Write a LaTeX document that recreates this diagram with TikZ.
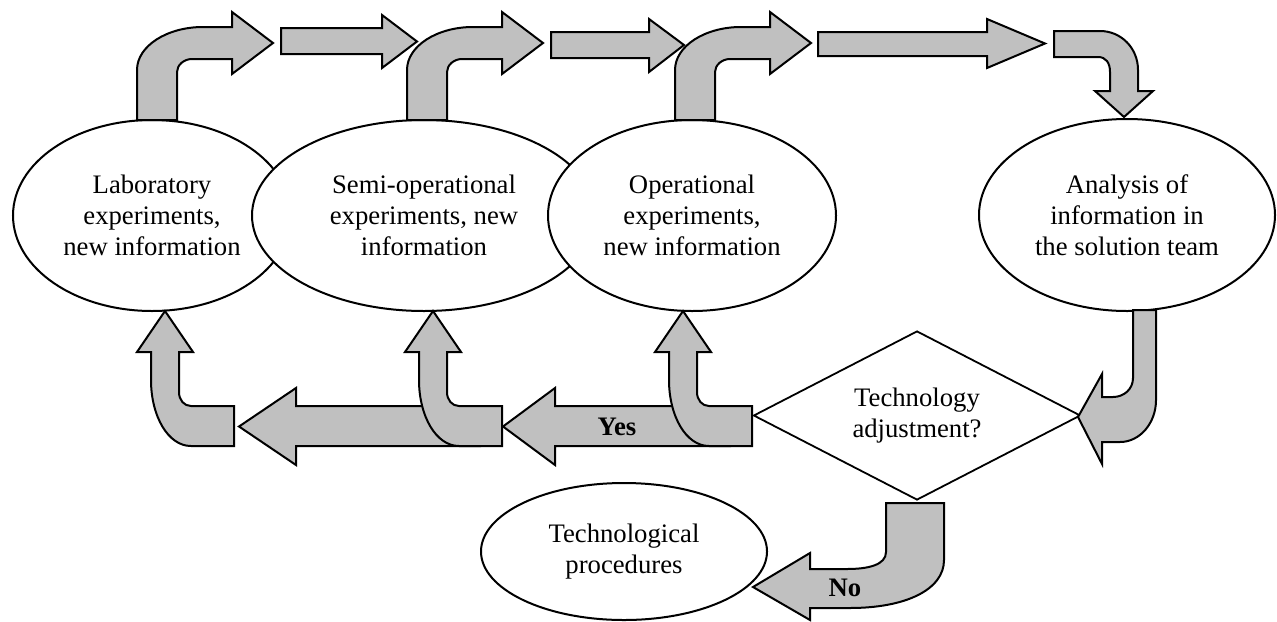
\documentclass[tikz,border=0pt]{standalone}
\usepackage{fontspec}
\setmainfont{Liberation Serif}
\usetikzlibrary{shapes.geometric}

\tikzset{
    stage/.style={ellipse, draw, fill=white, line width=1pt, inner sep=0pt,
        align=center, font=\fontsize{13.35}{15.5}\selectfont},
    decision/.style={diamond, draw, fill=white, line width=0.9pt, inner sep=0pt,
        aspect=1.9, align=center, font=\fontsize{13.35}{15.5}\selectfont},
    blockarrow/.style={draw, fill=fill_gray, line width=1pt, line join=miter},
    answer/.style={inner sep=0pt, font=\fontsize{13.35}{15.5}\selectfont\bfseries}
}

\begin{document}
\begin{tikzpicture}[x=0.5pt, y=-0.5pt]
    \definecolor{fill_gray}{HTML}{C0C0C0}
    \useasboundingbox (0,0) rectangle (1277,621);
    %\draw[help lines, step=50] (0,0) grid (1277,621);

    \node[stage, minimum width=139pt, minimum height=95.5pt] (lab) at (152,215.5) {
        Laboratory\\experiments,\\new information
    };
    \node[stage, minimum width=172pt, minimum height=95.5pt] (semi) at (424,215.5) {
        Semi-operational\\experiments, new\\information
    };
    \node[stage, minimum width=144pt, minimum height=95.5pt] (oper) at (692,215.5) {
        Operational\\experiments,\\new information
    };
    \node[stage, minimum width=148pt, minimum height=96pt] (analysis) at (1127,215) {
        Analysis of\\information in\\the solution team
    };
    \node[stage, minimum width=143pt, minimum height=68.5pt] (proc) at (624,551.5) {
        Technological\\procedures
    };
    \node[decision, minimum width=163.5pt, minimum height=84.5pt] (adjust) at (917,415.5) {
        Technology\\adjustment?
    };

    % upper row
    \path[blockarrow] (137,120) -- (137,70) .. controls (137,46) and (167,27) .. (203,27) -- (232,27) -- (232,12) -- (273,43) -- (232,74) -- (232,59) -- (192,59) .. controls (184,59) and (177,65) .. (177,72) -- (177,120) -- cycle;
    \path[blockarrow] (281,28) -- (382,28) -- (382,15) -- (417,41.5) -- (382,68) -- (382,54) -- (281,54) -- cycle;
    \path[blockarrow] (407,120) -- (407,70) .. controls (407,46) and (437,27) .. (473,27) -- (502,27) -- (502,12) -- (543,43) -- (502,74) -- (502,59) -- (462,59) .. controls (454,59) and (447,65) .. (447,72) -- (447,120) -- cycle;
    \path[blockarrow] (551,32) -- (649,32) -- (649,19) -- (684,45) -- (649,72) -- (649,58) -- (551,58) -- cycle;
    \path[blockarrow] (675,120) -- (675,70) .. controls (675,46) and (705,27) .. (741,27) -- (770,27) -- (770,12) -- (811,43) -- (770,74) -- (770,59) -- (730,59) .. controls (722,59) and (715,65) .. (715,72) -- (715,120) -- cycle;
    \path[blockarrow] (818,32) -- (987,32) -- (987,19) -- (1045,43.5) -- (987,68) -- (987,56) -- (818,56) -- cycle;
    \path[blockarrow] (1054,31) -- (1100,31) .. controls (1121,31) and (1138,48) .. (1138,70) -- (1138,91) -- (1153,91) -- (1124,117) -- (1095,91) -- (1110,91) -- (1110,72) .. controls (1110,63) and (1106,57) .. (1098,57) -- (1054,57) -- cycle;

    % right side
    \path[blockarrow] (1133,310) -- (1133,378) .. controls (1133,389) and (1124,397) .. (1113,397) -- (1102,397) -- (1102,374) -- (1078,417) -- (1102,464) -- (1102,442) -- (1120,442) .. controls (1140,442) and (1156,423) .. (1156,400) -- (1156,310) -- cycle;

    % lower row
    \path[blockarrow] (239,426.5) -- (296,388) -- (296,406) -- (480,406) -- (480,446) -- (296,446) -- (296,465) -- cycle;
    \path[blockarrow] (503,426.5) -- (555,388) -- (555,406) -- (730,406) -- (730,446) -- (555,446) -- (555,465) -- cycle;
    \path[blockarrow] (234,406) -- (191,406) .. controls (184,406) and (179,400) .. (179,392) -- (179,352) -- (193,352) -- (165,311) -- (137,352) -- (151,352) -- (151,380) .. controls (151,416) and (168,446) .. (191,446) -- (234,446) -- cycle;
    \path[blockarrow] (502,406) -- (459,406) .. controls (452,406) and (447,400) .. (447,392) -- (447,352) -- (461,352) -- (433,311) -- (405,352) -- (419,352) -- (419,380) .. controls (419,416) and (436,446) .. (459,446) -- (502,446) -- cycle;
    \path[blockarrow] (752,406) -- (709,406) .. controls (702,406) and (697,400) .. (697,392) -- (697,352) -- (711,352) -- (683,311) -- (655,352) -- (669,352) -- (669,380) .. controls (669,416) and (686,446) .. (709,446) -- (752,446) -- cycle;
    \node[answer] (yes) at (617,427) {Yes};

    % bottom
    \path[blockarrow] (886,503) -- (886,552) .. controls (886,565) and (868,569) .. (847,569) -- (810,569) -- (810,553) -- (753,587) -- (810,620) -- (810,608) -- (850,608) .. controls (905,608) and (944,590) .. (944,560) -- (944,503) -- cycle;
    \node[answer] (no) at (845,588) {No};

\end{tikzpicture}
\end{document}
